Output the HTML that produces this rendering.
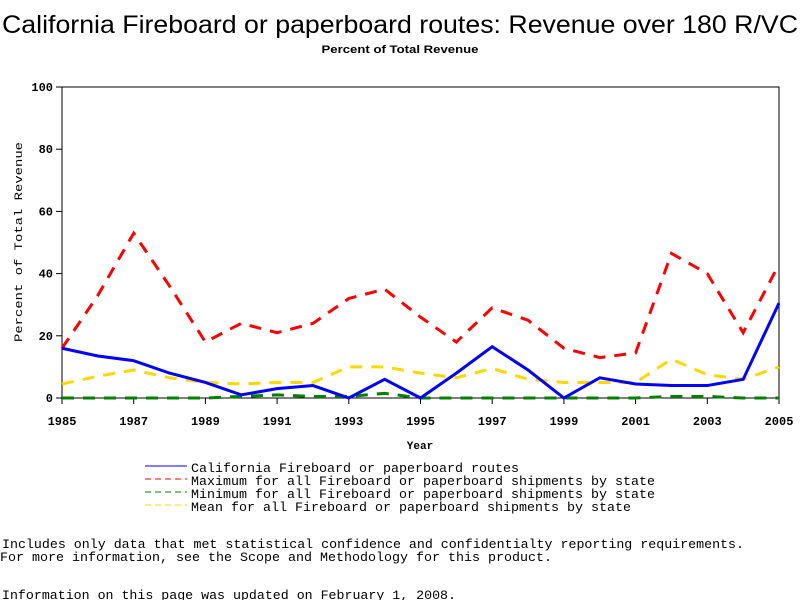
<!DOCTYPE html>
<html><head><meta charset="utf-8"><style>
html,body{margin:0;padding:0;background:#fff;width:800px;height:600px;overflow:hidden}
svg{display:block}
</style></head><body>
<svg id="chart" width="800" height="600" xmlns="http://www.w3.org/2000/svg" font-family="Liberation Sans, sans-serif">
<text x="400" y="33" font-size="25" text-anchor="middle" textLength="796" lengthAdjust="spacingAndGlyphs">California Fireboard or paperboard routes: Revenue over 180 R/VC</text>
<text x="400" y="53" font-size="11" font-weight="bold" text-anchor="middle" textLength="157" lengthAdjust="spacingAndGlyphs">Percent of Total Revenue</text>
<rect x="62" y="87" width="717" height="311" fill="none" stroke="#000" stroke-width="1"/>
<g id="axes"></g>
<g id="series"></g>
<text x="420" y="449" font-size="11" font-weight="bold" text-anchor="middle" font-family="Liberation Mono, monospace">Year</text>
<text transform="translate(22,242) rotate(-90)" font-size="11" text-anchor="middle" font-family="Liberation Mono, monospace" textLength="200" lengthAdjust="spacingAndGlyphs">Percent of Total Revenue</text>
<g font-family="Liberation Mono, monospace" font-size="13">
<g><line x1="145" y1="466" x2="187" y2="466" stroke="#0000ff" stroke-width="1"/><text x="191" y="472" textLength="328" lengthAdjust="spacingAndGlyphs">California Fireboard or paperboard routes</text></g>
<g><line x1="145" y1="479" x2="187" y2="479" stroke="#ff0000" stroke-dasharray="6,4"/><text x="191" y="485" textLength="464" lengthAdjust="spacingAndGlyphs">Maximum for all Fireboard or paperboard shipments by state</text></g>
<g><line x1="145" y1="492" x2="187" y2="492" stroke="#008000" stroke-dasharray="6,4"/><text x="191" y="498" textLength="464" lengthAdjust="spacingAndGlyphs">Minimum for all Fireboard or paperboard shipments by state</text></g>
<g><line x1="145" y1="505" x2="187" y2="505" stroke="#ffd700" stroke-dasharray="6,4"/><text x="191" y="511" textLength="440" lengthAdjust="spacingAndGlyphs">Mean for all Fireboard or paperboard shipments by state</text></g>
<text x="2" y="548" textLength="742" lengthAdjust="spacingAndGlyphs">Includes only data that met statistical confidence and confidentialty reporting requirements.</text>
<text x="0" y="561" textLength="552" lengthAdjust="spacingAndGlyphs">For more information, see the Scope and Methodology for this product.</text>
<text x="2" y="599" textLength="454" lengthAdjust="spacingAndGlyphs">Information on this page was updated on February 1, 2008.</text>
</g>
</svg>
<script>
const years = [1985,1986,1987,1988,1989,1990,1991,1992,1993,1994,1995,1996,1997,1998,1999,2000,2001,2002,2003,2004,2005];
const california = [16,13.5,12,8,5,1,3,4,0,6,0,8,16.5,9,0,6.5,4.5,4,4,6,30.5];
const maximum = [16,33,53,36,18,24,21,24,32,35,26,18,29,25,16,13,14.5,46.5,40,21,43];
const minimum = [0,0,0,0,0,0.5,1,0.5,0.5,1.5,0,0,0,0,0,0,0,0.5,0.5,0,0];
const mean = [4.5,7,9,6.5,5,4.5,5,5,10,10,8,6.5,9.5,6,5,5,5,12.5,7.5,6,10];
const yTicks = [0,20,40,60,80,100];
const xTickLabels = [1985,1987,1989,1991,1993,1995,1997,1999,2001,2003,2005];

const NS='http://www.w3.org/2000/svg';
const X0=62,X1=779,Y0=398,Y1=87;
function xs(v){return X0+(v-1985)/(2005-1985)*(X1-X0);}
function ys(v){return Y0-(v/100)*(Y0-Y1);}
const axes=document.getElementById('axes');
yTicks.forEach(t=>{
  const l=document.createElementNS(NS,'line');
  l.setAttribute('x1',X0-6);l.setAttribute('x2',X0);l.setAttribute('y1',ys(t));l.setAttribute('y2',ys(t));l.setAttribute('stroke','#000');
  
  
  axes.appendChild(l);
  const tx=document.createElementNS(NS,'text');
  tx.setAttribute('x',X0-9);tx.setAttribute('y',ys(t)+4);tx.setAttribute('text-anchor','end');tx.setAttribute('font-size','12');tx.setAttribute('font-weight','bold');tx.setAttribute('font-family','Liberation Mono, monospace');
  tx.textContent=t;
  
  
  axes.appendChild(tx);
});
xTickLabels.forEach(t=>{
  const l=document.createElementNS(NS,'line');
  l.setAttribute('x1',xs(t));l.setAttribute('x2',xs(t));l.setAttribute('y1',Y0);l.setAttribute('y2',Y0+6);l.setAttribute('stroke','#000');
  
  
  axes.appendChild(l);
  const tx=document.createElementNS(NS,'text');
  tx.setAttribute('x',xs(t));tx.setAttribute('y',Y0+27);tx.setAttribute('text-anchor','middle');tx.setAttribute('font-size','12');tx.setAttribute('font-weight','bold');tx.setAttribute('font-family','Liberation Mono, monospace');
  tx.textContent=t;
  
  
  axes.appendChild(tx);
});
const g=document.getElementById('series');
function draw(vals,color,dash,name){
  const p=document.createElementNS(NS,'polyline');
  p.setAttribute('points',vals.map((v,i)=>xs(years[i])+','+ys(v)).join(' '));
  p.setAttribute('fill','none');p.setAttribute('stroke',color);p.setAttribute('stroke-width','3');
  if(dash)p.setAttribute('stroke-dasharray',dash);
  
  
  g.appendChild(p);
}
draw(minimum,'#008000','12,9','series-minimum');
draw(mean,'#ffd700','12,9','series-mean');
draw(maximum,'#ff0000','12,9','series-maximum');
draw(california,'#0000ff',null,'series-california');
</script>
</body></html>
